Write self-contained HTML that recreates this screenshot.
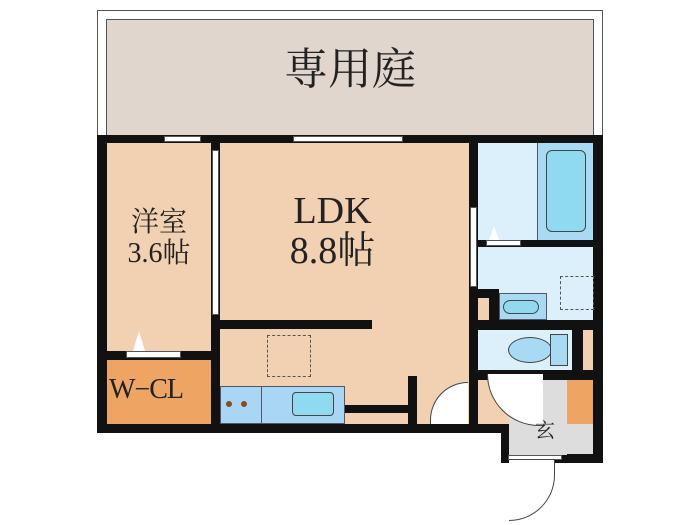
<!DOCTYPE html>
<html><head><meta charset="utf-8"><style>
body{margin:0;width:700px;height:525px;background:#fff;position:relative;overflow:hidden;font-family:"Liberation Serif","Noto Serif CJK SC",serif}
div{position:absolute;box-sizing:border-box}
.b{background:#111}
.t{color:#222;text-align:center;line-height:1}
</style></head><body>
<div style="left:97px;top:10px;width:506px;height:126px;border:1px solid #555;border-bottom:none"></div>
<div style="left:106px;top:19px;width:488px;height:117px;background:#e0d6cd;border:1px solid #555;border-bottom:none"></div>
<div class="t" style="left:106px;top:48px;width:518px;font-size:44px;text-align:center;padding-right:30px">専用庭</div>
<div class="b" style="left:97px;top:135px;width:506px;height:298px"></div>
<div class="b" style="left:501px;top:420px;width:102px;height:43px"></div>
<div style="left:107px;top:143px;width:104px;height:208px;background:#f2d1b3"></div>
<div style="left:107px;top:360px;width:104px;height:64px;background:#eea564"></div>
<div style="left:220px;top:143px;width:249px;height:281px;background:#f2d1b3"></div>
<div class="b" style="left:220px;top:320px;width:152px;height:9px"></div>
<div class="b" style="left:408px;top:376px;width:9px;height:57px"></div>
<div class="b" style="left:345px;top:405px;width:70px;height:8px"></div>
<div style="left:220px;top:386px;width:125px;height:38px;background:#a9d6f5;border:1px solid #556"></div>
<div style="left:261px;top:386px;width:1px;height:38px;background:#556"></div>
<div style="left:292px;top:392px;width:42px;height:24px;background:#8fdaf0;border:1px solid #444;border-radius:4px"></div>
<div style="left:226px;top:401px;width:6px;height:6px;border-radius:50%;background:#8a4a1a"></div>
<div style="left:241px;top:401px;width:6px;height:6px;border-radius:50%;background:#8a4a1a"></div>
<div style="left:267px;top:335px;width:44px;height:42px;border:1px dashed #555"></div>
<div style="left:164px;top:136px;width:37px;height:6px;background:#fff;border:1px solid #555"></div>
<div style="left:293px;top:136px;width:110px;height:6px;background:#fff;border:1px solid #555"></div>
<div style="left:212px;top:150px;width:7px;height:165px;background:#fff;border:1px solid #555"></div>
<div style="left:126px;top:351px;width:55px;height:7px;background:#fff;border:1px solid #555"></div>
<div style="left:133px;top:331px;width:0;height:0;border-left:6px solid transparent;border-right:6px solid transparent;border-bottom:20px solid #fff"></div>
<div style="left:478px;top:143px;width:115px;height:97px;background:#dcf0fb"></div>
<div style="left:537px;top:143px;width:56px;height:97px;background:#a9daf4;border-left:1px solid #556"></div>
<div style="left:546px;top:150px;width:40px;height:82px;background:#8fdaf0;border:1px solid #444;border-radius:6px"></div>
<div class="b" style="left:478px;top:240px;width:115px;height:7px"></div>
<div style="left:486px;top:240px;width:35px;height:6px;background:#fff;border:1px solid #555"></div>
<div style="left:489px;top:226px;width:0;height:0;border-left:5px solid transparent;border-right:5px solid transparent;border-bottom:14px solid #fff"></div>
<div style="left:478px;top:247px;width:115px;height:73px;background:#dcf0fb"></div>
<div style="left:560px;top:276px;width:34px;height:34px;border:1px dashed #555"></div>
<div style="left:499px;top:293px;width:48px;height:27px;background:#a9daf4;border:1px solid #556"></div>
<div style="left:503px;top:300px;width:36px;height:14px;background:#8fdaf0;border:1px solid #444;border-radius:7px"></div>
<div class="b" style="left:469px;top:289px;width:30px;height:40px"></div>
<div style="left:478px;top:298px;width:11px;height:22px;background:#f2d1b3"></div>
<div style="left:470px;top:207px;width:7px;height:80px;background:#fff;border:1px solid #555"></div>
<div class="b" style="left:469px;top:320px;width:134px;height:9px"></div>
<div style="left:478px;top:330px;width:94px;height:40px;background:#dcf0fb"></div>
<div style="left:508px;top:337px;width:44px;height:26px;background:#a9daf4;border:1px solid #444;border-radius:50%"></div>
<div style="left:550px;top:334px;width:18px;height:32px;background:#a9daf4;border:1px solid #444"></div>
<div style="left:583px;top:330px;width:10px;height:40px;background:#f2d1b3"></div>
<div style="left:478px;top:380px;width:31px;height:44px;background:#f2d1b3"></div>
<div style="left:509px;top:380px;width:58px;height:75px;background:#ddd"></div>
<div style="left:509px;top:424px;width:84px;height:30px;background:#ddd"></div>
<div style="left:567px;top:380px;width:26px;height:44px;background:#eea564"></div>
<div style="left:487px;top:374px;width:56px;height:52px;border:1px solid #444;border-radius:0 0 0 56px;border-top:none;border-right:none;background:#fff"></div>
<div style="left:430px;top:382px;width:38px;height:42px;border:1px solid #444;border-right:none;border-bottom:none;border-radius:42px 0 0 0;background:#fff"></div>
<div style="left:508px;top:455px;width:54px;height:5px;background:#fff;border:1px solid #555"></div>
<div style="left:509px;top:459px;width:46px;height:62px;border:1px solid #444;border-left:none;border-radius:0 0 60px 0;background:#fff"></div>
<div class="t" style="left:107px;top:208px;width:104px;font-size:28px;line-height:1.1">洋室<br>3.6帖</div>
<div class="t" style="left:220px;top:192px;width:225px;font-size:38px;line-height:1.05">LDK<br>8.8帖</div>
<div class="t" style="left:107px;top:376px;width:112px;font-size:28px;text-align:left;padding-left:2px;letter-spacing:-1px">W−CL</div>
<div class="t" style="left:530px;top:421px;width:30px;font-size:20px">玄</div>
</body></html>
